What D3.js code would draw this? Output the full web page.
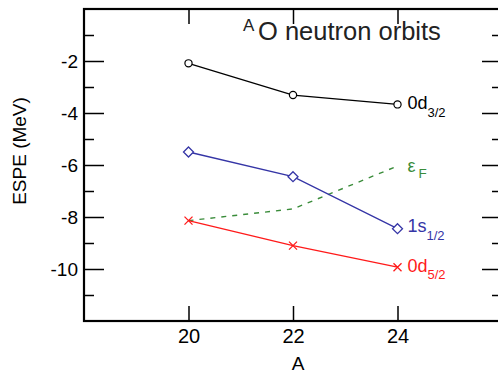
<!DOCTYPE html>
<html>
<head>
  <style>
    body { margin: 0; background: #fff; }
    text { font-family: "Liberation Sans", Arial, sans-serif; }
    .tick line { stroke: #000; stroke-width: 1.5px; }
  </style>
</head>
<body>
  <svg id="chart"></svg>
  <script src="https://d3js.org/d3.v7.min.js"></script>
  <script>
    // values (ESPE in MeV)
    const massNumbers = [20, 22, 24];
    const d32 = [-2.09, -3.31, -3.67];
    const s12 = [-5.5, -6.45, -8.45];
    const d52 = [-8.14, -9.1, -9.93];
    const fermi = [-8.14, -7.69, -6.04];
    const xTicks = [20, 22, 24];
    const yMajor = [-10, -8, -6, -4, -2];
    const yMinor = [-11, -9, -7, -5, -3, -1];

    const width = 498, height = 374;
    const svg = d3.select("#chart").attr("width", width).attr("height", height);

    const x = d3.scaleLinear().domain([18, 26]).range([84, 502]);
    const y = d3.scaleLinear().domain([-12, 0]).range([321, 9]);

    // axes, ticks pointing inward
    svg.append("g")
      .attr("transform", `translate(${x(18)},0)`)
      .call(d3.axisLeft(y).tickValues(yMajor).tickSizeInner(-20).tickSizeOuter(0).tickPadding(6)
        .tickFormat(d => String(d)))
      .call(g => g.select(".domain").remove())
      .selectAll("text").attr("font-size", 19).attr("fill", "#000");

    svg.append("g")
      .attr("transform", `translate(${x(18)},0)`)
      .call(d3.axisLeft(y).tickValues(yMinor).tickSize(-10).tickFormat(""))
      .call(g => g.select(".domain").remove());

    svg.append("g")
      .attr("transform", `translate(${x(26)},0)`)
      .call(d3.axisRight(y).tickValues(yMajor).tickSize(-20).tickFormat(""))
      .call(g => g.select(".domain").remove());

    svg.append("g")
      .attr("transform", `translate(${x(26)},0)`)
      .call(d3.axisRight(y).tickValues(yMinor).tickSize(-10).tickFormat(""))
      .call(g => g.select(".domain").remove());

    svg.append("g")
      .attr("transform", `translate(0,${y(-12)})`)
      .call(d3.axisBottom(x).tickValues(xTicks).tickSizeInner(-15).tickSizeOuter(0).tickPadding(8))
      .call(g => g.select(".domain").remove())
      .selectAll("text").attr("font-size", 20).attr("fill", "#000");

    svg.append("g")
      .attr("transform", `translate(0,${y(0)})`)
      .call(d3.axisTop(x).tickValues(xTicks).tickSize(-15).tickFormat(""))
      .call(g => g.select(".domain").remove());

    // frame
    svg.append("rect")
      .attr("x", x(18)).attr("y", y(0))
      .attr("width", x(26) - x(18)).attr("height", y(-12) - y(0))
      .attr("fill", "none").attr("stroke", "#000").attr("stroke-width", 2.2);

    // axis titles
    svg.append("text")
      .attr("x", 298).attr("y", 370)
      .attr("text-anchor", "middle").attr("font-size", 19)
      .text("A");

    svg.append("text")
      .attr("transform", "translate(26,151) rotate(-90)")
      .attr("text-anchor", "middle").attr("font-size", 19)
      .text("ESPE (MeV)");

    // title
    const title = svg.append("text").attr("fill", "#222");
    title.append("tspan").attr("x", 243).attr("y", 30.7).attr("font-size", 17).text("A");
    title.append("tspan").attr("x", 258).attr("y", 39.5).attr("font-size", 25.5).text("O neutron orbits");

    const line = d3.line()
      .x((d, i) => x(massNumbers[i]))
      .y(d => y(d));

    const series = [
      { values: d32, color: "#000", marker: "circle", name: "0d", sub: "3/2", dy: 4.6 },
      { values: s12, color: "#3535a6", marker: "diamond", name: "1s", sub: "1/2", dy: 3.5 },
      { values: d52, color: "#ff1a1a", marker: "cross", name: "0d", sub: "5/2", dy: 4.7 }
    ];

    // Fermi energy (dashed)
    svg.append("path")
      .attr("d", line(fermi))
      .attr("fill", "none")
      .attr("stroke", "#3a8c3a")
      .attr("stroke-width", 1.4)
      .attr("stroke-dasharray", "5,6");

    const eLabel = svg.append("text")
      .attr("x", x(24) + 10).attr("y", y(fermi[2]) + 6)
      .attr("fill", "#3a8c3a").attr("font-size", 18);
    eLabel.append("tspan").text("ε");
    eLabel.append("tspan").attr("dx", 3).attr("dy", 6).attr("font-size", 13.5).text("F");

    series.forEach(s => {
      svg.append("path")
        .attr("d", line(s.values))
        .attr("fill", "none")
        .attr("stroke", s.color)
        .attr("stroke-width", 1.3);

      const pts = svg.append("g").selectAll("g")
        .data(s.values)
        .join("g")
        .attr("transform", (d, i) => `translate(${x(massNumbers[i])},${y(d)})`);

      if (s.marker === "circle") {
        pts.append("circle").attr("r", 3.6)
          .attr("fill", "#fff").attr("stroke", s.color).attr("stroke-width", 1.2);
      } else if (s.marker === "diamond") {
        pts.append("path").attr("d", "M0,-5L5,0L0,5L-5,0Z")
          .attr("fill", "#fff").attr("stroke", s.color).attr("stroke-width", 1.3);
      } else {
        pts.append("path").attr("d", "M-4,-4L4,4M-4,4L4,-4")
          .attr("stroke", s.color).attr("stroke-width", 1.3);
      }

      const lbl = svg.append("text")
        .attr("x", x(24) + 10).attr("y", y(s.values[2]) + s.dy)
        .attr("fill", s.color).attr("font-size", 18);
      lbl.append("tspan").text(s.name);
      lbl.append("tspan").attr("dy", 7.5).attr("font-size", 13).text(s.sub);
    });
  </script>
</body>
</html>
